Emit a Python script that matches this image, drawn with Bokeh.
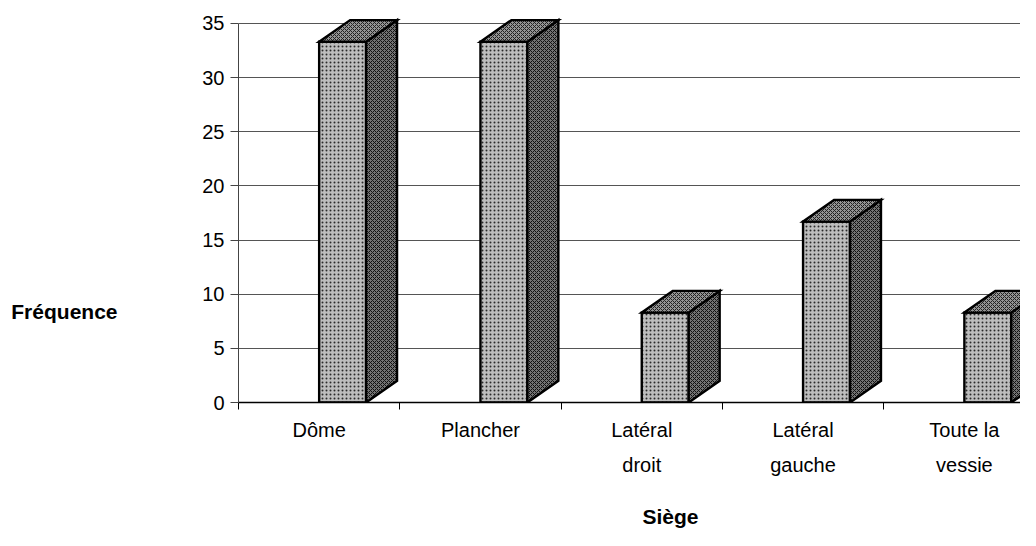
from bokeh.plotting import figure
from bokeh.models import FixedTicker, Range1d, LinearAxis
from bokeh.embed import file_html
from bokeh.resources import INLINE

# ---- data ----
categories = ["Dôme", "Plancher", "Latéral\ndroit", "Latéral\ngauche", "Toute la\nvessie"]
frequence = [33.3, 33.3, 8.3, 16.7, 8.3]
y_ticks = [0, 5, 10, 15, 20, 25, 30, 35]
y_title = "Fréquence"
x_title = "Siège"

# ---- style / geometry constants ----
FONT = "Liberation Sans"
BAR_W = 0.291      # front-face width (category units)
DX = 0.192         # 3D depth offset in x (category units)
DY = 2.0           # 3D depth offset in y (value units)
Y_TITLE_POS = 8.38
X_TITLE_POS = 2.678

p = figure(width=1020, height=530, output_backend="svg", toolbar_location=None,
           x_range=Range1d(0, 4.848), y_range=Range1d(0, 36.0),
           min_border_left=238, min_border_right=0, min_border_top=12, min_border_bottom=127)
p.outline_line_color = None
p.background_fill_color = "white"
p.border_fill_color = "white"

front_xs, front_ys, side_xs, side_ys, top_xs, top_ys = [], [], [], [], [], []
for i, v in enumerate(frequence):
    x0 = i + 0.5
    x1 = x0 + BAR_W
    front_xs.append([x0, x1, x1, x0]); front_ys.append([0, 0, v, v])
    side_xs.append([x1, x1 + DX, x1 + DX, x1]); side_ys.append([0, DY, v + DY, v])
    top_xs.append([x0, x0 + DX, x1 + DX, x1]); top_ys.append([v, v + DY, v + DY, v])

p.patches(front_xs, front_ys, fill_color="#bdbdbd", hatch_pattern="dot", hatch_color="#2a2a2a",
          hatch_scale=4, hatch_weight=1.2, line_color="black", line_width=2.4, line_join="miter")
p.patches(side_xs, side_ys, fill_color="#737373", hatch_pattern="diagonal_cross", hatch_color="#111",
          hatch_scale=4, hatch_weight=1, line_color="black", line_width=2.4, line_join="miter")
p.patches(top_xs, top_ys, fill_color="#949494", hatch_pattern="diagonal_cross", hatch_color="#222",
          hatch_scale=4, hatch_weight=1, line_color="black", line_width=2.4, line_join="miter")

# ---- y axis ----
ya = p.yaxis[0]
ya.ticker = FixedTicker(ticks=y_ticks)
ya.bounds = (0, 35)
ya.major_tick_out = 8
ya.major_tick_in = 0
ya.minor_tick_line_color = None
ya.axis_line_color = "#444"
ya.major_tick_line_color = "#444"
ya.major_label_text_font = FONT
ya.major_label_text_font_size = "20px"
ya.major_label_text_color = "black"
ya.major_label_standoff = 6

# y title as an outer left axis carrying one label
yt = LinearAxis(ticker=FixedTicker(ticks=[Y_TITLE_POS]),
                major_label_overrides={Y_TITLE_POS: y_title})
yt.axis_line_color = None
yt.major_tick_line_color = None
yt.minor_tick_line_color = None
yt.major_tick_out = 0
yt.major_label_text_font = FONT
yt.major_label_text_font_size = "21px"
yt.major_label_text_font_style = "bold"
yt.major_label_text_color = "black"
yt.major_label_standoff = 82
p.add_layout(yt, "left")

# ---- x axis ----
centers = [i + 0.5 for i in range(len(categories))]
xa = p.xaxis[0]
xa.ticker = FixedTicker(ticks=centers, minor_ticks=list(range(len(categories) + 1)))
xa.major_label_overrides = {c: lab for c, lab in zip(centers, categories)}
xa.major_tick_line_color = None
xa.major_tick_out = 0
xa.major_tick_in = 0
xa.minor_tick_out = 7
xa.minor_tick_in = 0
xa.minor_tick_line_color = "black"
xa.axis_line_color = "black"
xa.axis_line_width = 1.5
xa.major_label_text_font = FONT
xa.major_label_text_font_size = "20px"
xa.major_label_text_color = "black"
xa.major_label_text_line_height = 1.6
xa.major_label_standoff = 9

# x title as an outer bottom axis carrying one label
xt = LinearAxis(ticker=FixedTicker(ticks=[X_TITLE_POS]),
                major_label_overrides={X_TITLE_POS: x_title})
xt.axis_line_color = None
xt.major_tick_line_color = None
xt.minor_tick_line_color = None
xt.major_tick_out = 0
xt.major_label_text_font = FONT
xt.major_label_text_font_size = "21px"
xt.major_label_text_font_style = "bold"
xt.major_label_text_color = "black"
xt.major_label_standoff = 26
p.add_layout(xt, "below")

# ---- grid ----
p.xgrid.grid_line_color = None
p.ygrid.ticker = FixedTicker(ticks=y_ticks)
p.ygrid.grid_line_color = "#555"
p.ygrid.grid_line_width = 1

open("out.html", "w").write(file_html(p, INLINE))
